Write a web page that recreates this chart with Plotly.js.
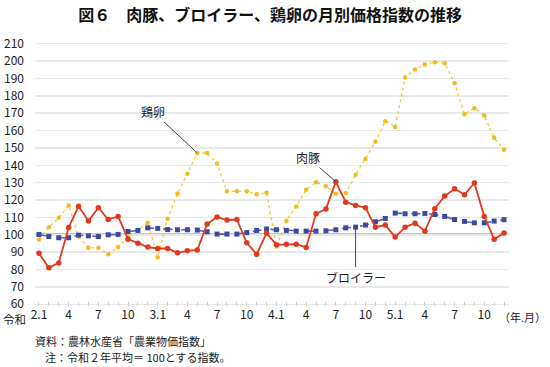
<!DOCTYPE html>
<html>
<head>
<meta charset="utf-8">
<script src="https://cdn.plot.ly/plotly-3.0.1.min.js"></script>
<style>html,body{margin:0;padding:0;background:#fff;}#chart{width:550px;height:367px;}</style>
</head>
<body>
<div id="chart"></div>
<script>
// Month index 0 = 令和2年1月 … 47 = 令和5年12月
const tickLabels = ["2.1","","","4","","","7","","","10","","",
                    "3.1","","","4","","","7","","","10","","",
                    "4.1","","","4","","","7","","","10","","",
                    "5.1","","","4","","","7","","","10","",""];
const pork = [89.4,81,83.8,104.2,116.5,108,115.6,108.8,110.6,97.5,95.2,92.9,
              92.1,92.1,89.6,90.8,91.3,106.2,110.2,108.5,108.8,95.4,88.8,101,
              94.2,94.6,94.6,92.7,112.1,114.8,130.6,118.8,116.9,115.6,104.4,105.6,
              98.7,104.4,106.7,102.1,115,122.3,126.5,123.1,129.8,110.6,97.5,101];
const broiler = [100.2,99,98.3,98.3,99.8,99.4,99,100,100.2,101.9,102.5,104,
                 103.7,103,102.9,102.9,102.7,101.7,100.4,100.4,100.4,101.3,102.5,103.3,
                 102.9,102.5,102.1,102.1,102.1,102.3,102.9,104,104.4,105.6,107.5,109.4,
                 112.5,112.1,112.1,112.3,111.7,110.6,108.8,107.7,106.9,106.9,107.9,108.7];
const eggs = [97.3,104.4,109.8,116.9,99,92.5,92.5,88.8,92.9,99,102.9,106.9,
              87.1,109.2,123.7,135.2,147.1,147.1,141,125,125,125,123.3,124.2,
              93.3,108.1,116.3,126,130.2,127.9,123.7,124,134.6,143.7,153.5,165.4,
              162.1,190.6,195.2,198.1,199.4,198.7,187.3,169.4,172.9,168.7,155.8,149];
const seriesNames = ["肉豚","ブロイラー","鶏卵"];
const idx = tickLabels.map((_, i) => i);
const F = '"Noto Sans CJK JP", "Noto Sans", sans-serif';

const traces = [
  {x: idx, y: eggs, name: seriesNames[2], type: 'scatter', mode: 'lines+markers',
   line: {color: '#f7c832', width: 1.3, dash: 'dot'},
   marker: {color: '#f2bc1e', size: 4.5, symbol: 'circle'}},
  {x: idx, y: broiler, name: seriesNames[1], type: 'scatter', mode: 'lines+markers',
   line: {color: '#5563ad', width: 1.6, dash: 'dash'},
   marker: {color: '#3b4a9c', size: 5, symbol: 'square'}},
  {x: idx, y: pork, name: seriesNames[0], type: 'scatter', mode: 'lines+markers',
   line: {color: '#e03a1e', width: 1.8},
   marker: {color: '#e03a1e', size: 5.5, symbol: 'circle'}}
];

const layout = {
  width: 550, height: 367,
  margin: {l: 35, r: 41, t: 42, b: 61},
  paper_bgcolor: '#fff', plot_bgcolor: '#fff',
  showlegend: false,
  font: {family: F, color: '#222', size: 12},
  title: {text: '<b>図６　肉豚、ブロイラー、鶏卵の月別価格指数の推移</b>',
          x: 0.491, xanchor: 'center', y: 0.959, yanchor: 'middle',
          font: {family: F, size: 16, color: '#111'}},
  xaxis: {range: [-0.4, 47.5], tickvals: idx, ticktext: tickLabels, tickangle: 0,
          showgrid: false, zeroline: false, showline: false,
          ticks: 'inside', ticklen: 4, tickcolor: '#cfcfcf', tickwidth: 1,
          tickfont: {family: F, size: 12, color: '#222'}, fixedrange: true},
  yaxis: {range: [59, 211], tickvals: [60,70,80,90,100,110,120,130,140,150,160,170,180,190,200,210],
          showgrid: true, gridcolor: '#e8e8e8', gridwidth: 1.5, zeroline: false, showline: false,
          ticks: '', ticklabelstandoff: 10,
          tickfont: {family: F, size: 12, color: '#222'}, fixedrange: true},
  shapes: [
    {type: 'line', xref: 'paper', x0: 0, x1: 1, yref: 'y', y0: 100, y1: 100,
     line: {color: '#111', width: 2}, layer: 'below'}
  ],
  annotations: [
    {xref: 'x', yref: 'y', x: 16, y: 147.1, text: '鶏卵', showarrow: true,
     ax: -44, ay: -41, arrowhead: 0, arrowwidth: 1, arrowcolor: '#444',
     font: {family: F, size: 12, color: '#222'}},
    {xref: 'x', yref: 'y', x: 30, y: 130.6, text: '肉豚', showarrow: true,
     ax: -28, ay: -24, arrowhead: 0, arrowwidth: 1, arrowcolor: '#444',
     font: {family: F, size: 12, color: '#222'}},
    {xref: 'x', yref: 'y', x: 32, y: 104.4, text: 'ブロイラー', showarrow: true,
     ax: 0, ay: 50, arrowhead: 0, arrowwidth: 1, arrowcolor: '#444',
     font: {family: F, size: 12, color: '#222'}},
    {xref: 'paper', yref: 'paper', x: -0.015, y: -0.05, xanchor: 'right', yanchor: 'middle',
     text: '令和', showarrow: false, font: {family: F, size: 11.5, color: '#222'}},
    {xref: 'paper', yref: 'paper', x: 1.083, y: -0.042, xanchor: 'right', yanchor: 'middle',
     text: '（年.月）', showarrow: false, font: {family: F, size: 11, color: '#222'}},
    {xref: 'paper', yref: 'paper', x: -0.005, y: -0.131, xanchor: 'left', yanchor: 'middle', align: 'left',
     text: '資料：農林水産省「農業物価指数」', showarrow: false, font: {family: F, size: 11, color: '#222'}},
    {xref: 'paper', yref: 'paper', x: 0.016, y: -0.193, xanchor: 'left', yanchor: 'middle', align: 'left',
     text: '注：令和２年平均＝ 100とする指数。', showarrow: false, font: {family: F, size: 11, color: '#222'}}
  ]
};

Plotly.newPlot('chart', traces, layout, {staticPlot: true, displayModeBar: false});
</script>
</body>
</html>
